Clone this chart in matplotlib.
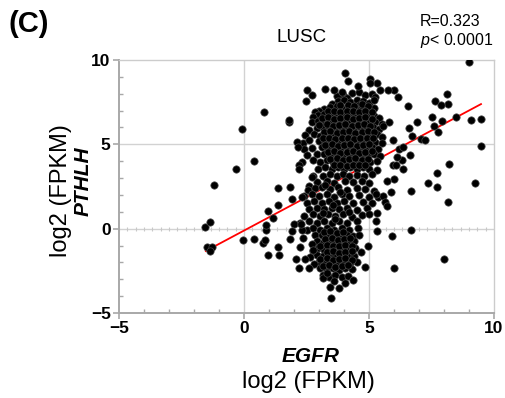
import numpy as np
import matplotlib.pyplot as plt
from matplotlib.ticker import MultipleLocator

plt.rcParams['font.family'] = ['Liberation Sans', 'DejaVu Sans']
plt.rcParams['mathtext.fontset'] = 'custom'
plt.rcParams['mathtext.rm'] = 'Liberation Sans'
plt.rcParams['mathtext.it'] = 'Liberation Sans:italic'

# (EGFR, PTHLH) log2 FPKM pairs, grouped by region
upper_core = [
    (3.95, 7.95), (4.30, 8.05), (4.60, 8.10), (4.85, 7.90), (5.10, 8.00), (5.25, 7.80), (3.70, 7.85), (4.10, 7.75),
    (3.75, 7.55), (4.00, 7.60), (4.25, 7.50), (4.50, 7.65), (4.75, 7.55), (5.00, 7.45), (5.20, 7.60), (3.50, 7.40), (4.60, 7.35),
    (3.20, 7.10), (3.45, 7.20), (3.70, 7.25), (3.95, 7.10), (4.20, 7.20), (4.45, 7.15), (4.70, 7.25), (4.95, 7.10), (5.20, 7.15),
    (3.00, 6.95), (2.85, 6.90),
    (2.95, 6.75), (3.20, 6.80), (3.45, 6.70), (3.70, 6.85), (3.95, 6.75), (4.20, 6.80), (4.45, 6.70), (4.70, 6.85), (4.95, 6.75),
    (5.20, 6.70), (5.40, 6.55), (2.75, 6.60),
    (2.70, 6.30), (2.95, 6.40), (3.25, 6.35), (3.50, 6.45), (3.75, 6.30), (4.00, 6.40), (4.25, 6.35), (4.50, 6.45), (4.75, 6.30),
    (5.00, 6.40), (5.25, 6.30), (5.50, 6.20),
    (2.60, 5.85), (2.90, 5.95), (3.15, 6.05), (3.40, 5.95), (3.65, 6.05), (3.90, 5.95), (4.15, 6.05), (4.40, 5.95), (4.65, 6.05),
    (4.90, 5.95), (5.15, 6.05), (5.40, 5.90),
    (2.45, 5.55), (2.80, 5.60), (3.05, 5.50), (3.30, 5.65), (3.55, 5.55), (3.80, 5.65), (4.05, 5.55), (4.30, 5.65), (4.55, 5.55),
    (4.80, 5.65), (5.05, 5.55), (5.30, 5.60), (5.50, 5.45),
    (2.35, 5.10), (2.60, 5.25), (3.00, 5.20), (3.25, 5.10), (3.50, 5.25), (3.75, 5.15), (4.00, 5.25), (4.25, 5.10), (4.50, 5.20),
    (4.75, 5.10), (5.00, 5.25), (5.25, 5.15), (5.50, 5.05),
    (2.40, 4.75), (2.70, 4.80), (3.10, 4.85), (3.35, 4.75), (3.60, 4.85), (3.85, 4.75), (4.10, 4.85), (4.35, 4.75), (4.60, 4.85),
    (4.85, 4.75), (5.10, 4.85), (5.35, 4.70),
    (2.50, 4.35), (2.90, 4.40), (3.20, 4.45), (3.45, 4.35), (3.70, 4.45), (3.95, 4.35), (4.20, 4.45), (4.45, 4.35), (4.70, 4.45),
    (4.95, 4.35), (5.20, 4.40), (5.45, 4.30),
    (2.30, 3.95), (2.75, 4.05), (3.05, 3.95), (3.30, 4.05), (3.55, 3.95), (3.80, 4.05), (4.05, 3.95), (4.30, 4.05), (4.55, 3.95),
    (4.80, 4.05), (5.05, 3.95), (5.30, 4.00),
    (2.95, 3.55), (3.25, 3.65), (3.50, 3.55), (3.75, 3.65), (4.00, 3.55), (4.25, 3.65), (4.50, 3.55), (4.75, 3.65), (5.00, 3.55),
    (5.30, 3.50),
    (3.15, 3.15), (3.45, 3.25), (3.70, 3.10), (3.95, 3.25), (4.20, 3.15), (4.50, 3.20), (4.80, 3.10), (5.10, 3.25), (2.75, 3.10),
]

upper_fill = [
    (3.85, 7.35), (4.15, 7.35), (4.40, 7.30), (4.70, 7.40), (4.95, 7.30),
    (3.35, 6.95), (3.60, 7.00), (3.85, 6.90), (4.10, 6.95), (4.35, 7.00), (4.60, 6.90), (4.85, 6.95), (5.10, 6.90),
    (3.10, 6.55), (3.35, 6.60), (3.60, 6.50), (3.85, 6.55), (4.10, 6.60), (4.35, 6.50), (4.60, 6.55), (4.85, 6.60), (5.10, 6.50),
    (3.00, 6.15), (3.30, 6.20), (3.55, 6.10), (3.80, 6.15), (4.05, 6.20), (4.30, 6.10), (4.55, 6.15), (4.80, 6.20), (5.05, 6.10),
    (3.20, 5.75), (3.45, 5.80), (3.70, 5.70), (3.95, 5.75), (4.20, 5.80), (4.45, 5.70), (4.70, 5.75), (4.95, 5.80), (5.20, 5.75),
    (3.15, 5.35), (3.40, 5.40), (3.65, 5.30), (3.90, 5.35), (4.15, 5.40), (4.40, 5.30), (4.65, 5.35), (4.90, 5.40), (5.15, 5.35),
    (3.25, 4.95), (3.50, 5.00), (3.75, 4.90), (4.00, 4.95), (4.25, 5.00), (4.50, 4.90), (4.75, 4.95), (5.00, 5.00),
    (3.35, 4.55), (3.60, 4.60), (3.85, 4.50), (4.10, 4.55), (4.35, 4.60), (4.60, 4.50), (4.85, 4.55), (5.10, 4.60),
    (3.45, 4.15), (3.70, 4.20), (3.95, 4.10), (4.20, 4.15), (4.45, 4.20), (4.70, 4.10), (4.95, 4.15),
    (3.60, 3.75), (3.85, 3.80), (4.10, 3.70), (4.35, 3.75), (4.60, 3.80), (4.85, 3.75),
]

mid_band = [
    (2.90, 2.75), (3.30, 2.85), (3.60, 2.70), (4.05, 2.80), (4.35, 2.75), (4.70, 2.85), (5.00, 2.70), (2.60, 2.55),
    (2.55, 2.30), (2.85, 2.40), (3.10, 2.45), (3.45, 2.35), (3.75, 2.45), (4.10, 2.30), (4.50, 2.40), (4.85, 2.35), (5.20, 2.25),
    (2.40, 1.95), (2.70, 2.05), (3.00, 1.95), (3.30, 2.05), (3.60, 1.90), (3.90, 2.05), (4.20, 1.95), (4.60, 2.00), (5.00, 1.90),
    (5.35, 1.85),
    (2.50, 1.55), (2.80, 1.65), (3.10, 1.55), (3.40, 1.65), (3.70, 1.55), (4.00, 1.65), (4.35, 1.55), (4.75, 1.60), (5.10, 1.50),
    (2.60, 1.15), (2.90, 1.25), (3.20, 1.15), (3.50, 1.25), (3.80, 1.15), (4.10, 1.25), (4.50, 1.10), (4.90, 1.20),
    (2.40, 0.75), (2.75, 0.85), (3.05, 0.75), (3.35, 0.85), (3.65, 0.75), (3.95, 0.85), (4.30, 0.70), (4.70, 0.80), (5.00, 0.85),
    (2.25, 0.35), (2.60, 0.45), (2.90, 0.35), (3.20, 0.45), (3.50, 0.35), (3.80, 0.45), (4.10, 0.35), (4.50, 0.45), (2.00, 0.30),
    (3.25, 2.60), (3.85, 2.20), (3.55, 1.40), (4.20, 1.00), (3.15, 0.95), (3.65, 0.55),
]

lower_core = [
    (2.50, -0.05), (2.75, 0.05), (3.05, -0.05), (3.30, 0.05), (3.60, -0.05), (3.90, 0.05), (4.20, -0.05), (4.55, 0.05), (2.30, -0.10),
    (2.85, -0.40), (3.10, -0.35), (3.35, -0.45), (3.60, -0.35), (3.85, -0.45), (4.10, -0.35), (4.35, -0.45), (4.60, -0.40),
    (2.90, -0.75), (3.15, -0.85), (3.40, -0.75), (3.65, -0.85), (3.90, -0.75), (4.15, -0.85), (4.40, -0.75), (2.70, -0.90),
    (2.95, -1.15), (3.20, -1.25), (3.45, -1.15), (3.70, -1.25), (3.95, -1.15), (4.20, -1.25), (4.45, -1.15), (2.75, -1.30),
    (2.90, -1.55), (3.15, -1.65), (3.40, -1.55), (3.65, -1.65), (3.90, -1.55), (4.15, -1.65), (4.40, -1.60), (2.65, -1.70),
    (3.00, -1.95), (3.25, -2.05), (3.50, -1.95), (3.75, -2.05), (4.00, -1.95), (4.25, -2.05), (4.50, -2.00), (2.80, -2.10),
    (3.05, -2.35), (3.30, -2.45), (3.55, -2.35), (3.80, -2.45), (4.05, -2.35), (4.30, -2.40),
    (3.15, -2.75), (3.40, -2.85), (3.65, -2.75), (3.90, -2.85), (4.15, -2.80),
]

lower_fill = [
    (3.20, -0.20), (3.45, -0.15), (3.70, -0.25), (3.95, -0.20),
    (3.25, -0.60), (3.50, -0.55), (3.75, -0.65), (4.00, -0.60), (4.25, -0.55),
    (3.05, -1.00), (3.30, -0.95), (3.55, -1.05), (3.80, -1.00), (4.05, -0.95), (4.30, -1.05),
    (3.30, -1.40), (3.55, -1.35), (3.80, -1.45), (4.05, -1.40), (4.30, -1.35),
    (3.05, -1.80), (3.30, -1.75), (3.55, -1.85), (3.80, -1.80), (4.05, -1.75), (4.30, -1.85),
    (3.15, -2.20), (3.40, -2.15), (3.65, -2.25), (3.90, -2.20), (4.15, -2.15),
]

tips = [
    (4.05, 9.21), (4.15, 8.75), (5.04, 8.85), (5.31, 8.61), (4.55, 8.45), (3.24, 8.31), (3.60, 8.21), (3.91, 8.12), (5.04, 8.61),
    (3.47, -4.09), (3.44, -3.43), (3.81, -3.53), (4.04, -3.25), (4.37, -3.06), (3.60, -3.10), (3.17, -2.90), (3.31, -2.60),
]

left_outliers = [
    (9.01, 9.90), (-1.56, 0.08), (-1.36, 0.38), (-1.47, -1.07), (-1.28, -1.11), (-1.36, -1.31), (-1.19, 2.60), (-0.07, 5.93),
    (-0.31, 3.51), (0.41, 3.99), (0.79, 6.92), (-0.05, -0.69), (0.41, -0.63), (0.77, -0.85), (0.83, -0.65), (0.89, -0.06),
    (0.89, 0.22), (0.97, 1.07), (1.15, 0.63), (1.35, 2.40), (1.36, 1.39), (0.96, -1.55), (1.41, -1.55), (1.35, -1.11),
    (1.84, 2.46), (1.81, 6.33), (1.80, 6.43), (1.92, 1.75), (1.85, -0.63), (1.92, -0.12), (2.27, 0.28), (2.24, -1.11),
    (2.08, -1.81), (2.21, -2.34), (2.35, -0.58), (2.33, 1.90), (2.51, 8.21), (2.71, 7.92), (2.48, 7.58), (2.11, 5.14),
    (2.15, 4.84), (2.21, 3.79), (2.21, 3.51), (2.72, 3.06), (2.59, -2.36), (2.76, -1.25), (2.45, -1.81),
]

right_outliers = [
    (9.08, 6.43), (9.48, 6.53), (9.48, 4.92), (9.25, 2.70), (8.48, 6.63), (8.13, 7.98), (8.15, 7.42), (7.64, 7.58),
    (7.88, 7.32), (7.51, 6.63), (7.60, 6.07), (7.93, 6.39), (7.77, 5.73), (6.91, 6.33), (6.60, 5.99), (6.73, 5.50),
    (7.08, 5.34), (7.24, 5.24), (6.57, 7.28), (6.64, 4.35), (6.37, 3.55), (6.31, 4.05), (7.71, 3.31), (8.21, 3.85),
    (7.35, 2.70), (7.71, 2.46), (6.67, 2.26), (8.16, 1.59), (6.68, -0.06), (8.01, -1.79), (6.01, -2.34), (5.91, -0.46),
    (6.01, 8.25), (6.15, 7.82), (5.75, 8.25), (5.44, 8.25), (5.81, 6.33), (5.57, 6.07), (5.97, 5.24), (6.21, 4.74),
    (6.37, 4.84), (6.11, 4.25), (5.97, 3.75), (6.08, 3.75), (6.00, 2.96), (5.71, 2.80), (5.89, 2.16), (5.57, 1.96),
    (5.64, 1.57), (5.73, 1.37), (5.27, 2.06), (5.31, 0.91), (5.27, 0.44), (5.31, -0.12), (4.97, -1.01), (4.84, -2.30),
    (4.67, -1.41),
]

# regression line as drawn in the original
fit_x = [-1.53, 9.48]
fit_slope = 0.791
fit_intercept = -0.113

pts = np.array(upper_core + upper_fill + mid_band + lower_core + lower_fill + tips + left_outliers + right_outliers)
egfr = pts[:, 0]
pthlh = pts[:, 1]

fig = plt.figure(figsize=(5.05, 3.98), dpi=100)
ax = fig.add_axes([119 / 505, 1 - 313 / 398, 375 / 505, 253 / 398])

ax.set_xlim(-5, 10)
ax.set_ylim(-5, 10)

# light grid lines
for gx in [0, 5]:
    ax.axvline(gx, color='#d2d2d2', lw=1.0, zorder=1)
ax.axhline(5, color='#d2d2d2', lw=1.0, zorder=1)
# zero line with small ticks on it
ax.axhline(0, color='#d2d2d2', lw=1.0, zorder=1)
zx = np.arange(-5, 10, 1 / 3)
ax.plot(zx, np.zeros_like(zx), ls='none', marker='|', ms=3, mew=0.8, color='#c8c8c8', zorder=1)

fx = np.array(fit_x)
ax.plot(fx, fit_slope * fx + fit_intercept, color='red', lw=1.3, zorder=2)
ax.scatter(egfr, pthlh, s=28, c='black', edgecolors='#4a4a4a', linewidths=0.5, zorder=3)

for side in ['top', 'right']:
    ax.spines[side].set_color('#cccccc')
    ax.spines[side].set_linewidth(1.0)
for side in ['left', 'bottom']:
    ax.spines[side].set_color('#a8a8a8')
    ax.spines[side].set_linewidth(1.4)

ax.xaxis.set_major_locator(MultipleLocator(5))
ax.yaxis.set_major_locator(MultipleLocator(5))
ax.xaxis.set_minor_locator(MultipleLocator(1))
ax.yaxis.set_minor_locator(MultipleLocator(1))
ax.tick_params(which='major', direction='out', length=4, width=1.2, color='#a8a8a8', pad=2)
ax.tick_params(which='minor', direction='in', length=3, width=1.0, color='#a8a8a8')
ax.tick_params(which='minor', top=False, right=False)
for lbl in ax.get_xticklabels() + ax.get_yticklabels():
    lbl.set_fontsize(12.5)
    lbl.set_fontweight('bold')

fig.text(8 / 505, 1 - 24 / 398, '(C)', fontsize=21, fontweight='bold', va='center', ha='left')
fig.text(302 / 505, 1 - 38 / 398, 'LUSC', fontsize=13.5, va='center', ha='center')
fig.text(420 / 505, 1 - 21 / 398, 'R=0.323', fontsize=11.5, va='center', ha='left')
fig.text(420 / 505, 1 - 40 / 398, '$p$< 0.0001', fontsize=11.5, va='center', ha='left')

fig.text(61 / 505, 1 - 191 / 398, 'log2 (FPKM)', fontsize=17, rotation=90, va='center', ha='center')
fig.text(83 / 505, 1 - 181 / 398, 'PTHLH', fontsize=15, rotation=90, fontweight='bold',
         fontstyle='italic', va='center', ha='center')
fig.text(311 / 505, 1 - 357 / 398, 'EGFR', fontsize=15, fontweight='bold', fontstyle='italic',
         va='center', ha='center')
fig.text(308 / 505, 1 - 382 / 398, 'log2 (FPKM)', fontsize=17, va='center', ha='center')

plt.savefig('out.png', dpi=100)
